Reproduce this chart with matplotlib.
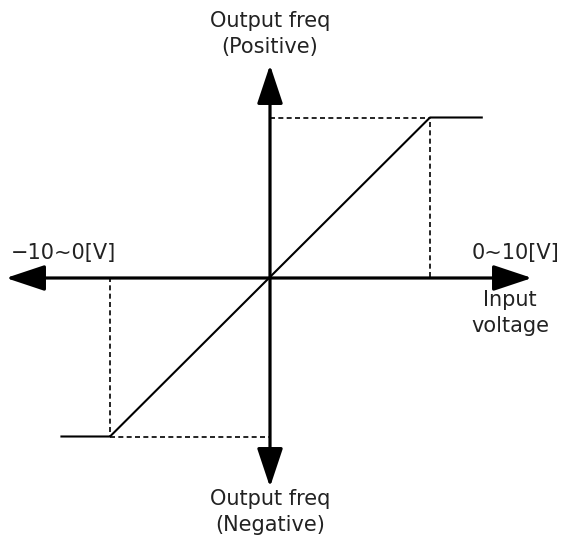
import matplotlib
matplotlib.use("Agg")
import matplotlib.pyplot as plt
from matplotlib.patches import FancyArrowPatch

#===========
# DATA
#===========
vin = [-13.1, -10, 10, 13.3]          # input voltage [V]
freq = [-100, -100, 100, 100]         # output frequency [%]
vlim = 10                             # +/-10 V
flim = 100                            # +/-100 %

left_label = "\u221210~0[V]"
right_label = "0~10[V]"
xlabel = "Input\nvoltage"
top_label = "Output freq\n(Positive)"
bottom_label = "Output freq\n(Negative)"

#===========
# LAYOUT
#===========
W, H = 564, 542
x0px, y0px = 270, 277        # origin in pixels
sx, sy = 16.0, 1.595         # pixels per unit
fs = 15

fig = plt.figure(figsize=(W / 100, H / 100), dpi=100)
ax = fig.add_axes([0, 0, 1, 1])
ax.set_xlim(-x0px / sx, (W - x0px) / sx)
ax.set_ylim(-(H - y0px) / sy, y0px / sy)
ax.axis("off")

def px(xp, yp):
    return ((xp - x0px) / sx, (y0px - yp) / sy)

# axes arrows
for a, b in [(px(6, 278), px(532, 278)), (px(270, 487), px(270, 65))]:
    ar = FancyArrowPatch(a, b, arrowstyle="<|-|>,head_length=24,head_width=8",
                         mutation_scale=1, lw=2.3, color="k",
                         shrinkA=0, shrinkB=0)
    ax.add_patch(ar)

# characteristic
ax.plot(vin, freq, color="k", lw=1.5, solid_capstyle="butt")

# guide dashed lines
dash = dict(color="k", lw=1.2, ls=(0, (3, 2)))
ax.plot([0, vlim], [flim, flim], **dash)
ax.plot([vlim, vlim], [0, flim], **dash)
ax.plot([-vlim, 0], [-flim, -flim], **dash)
ax.plot([-vlim, -vlim], [0, -flim], **dash)

# labels
tc = "#222222"
ls = 1.4
ax.text(*px(270, 34), top_label, ha="center", va="center", fontsize=fs,
        linespacing=ls, color=tc)
ax.text(*px(270, 512), bottom_label, ha="center", va="center", fontsize=fs,
        linespacing=ls, color=tc)
ax.text(*px(11, 253), left_label, ha="left", va="center", fontsize=fs, color=tc)
ax.text(*px(559, 253), right_label, ha="right", va="center", fontsize=fs, color=tc)
ax.text(*px(510, 313), xlabel, ha="center", va="center", fontsize=fs,
        linespacing=ls, color=tc)

plt.savefig("out.png", dpi=100)
